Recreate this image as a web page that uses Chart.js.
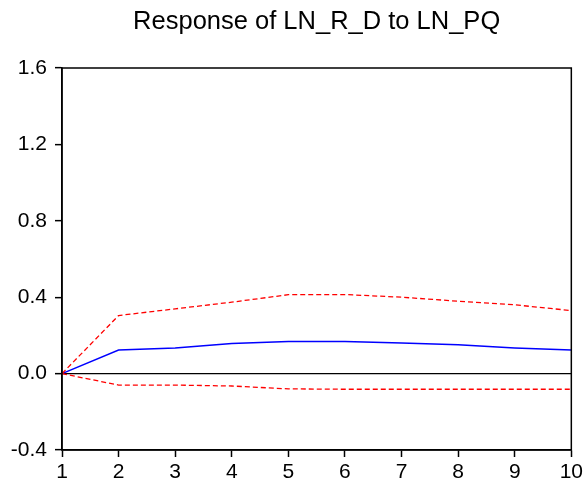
<!DOCTYPE html>
<html>
<head>
<meta charset="utf-8">
<script src="https://cdn.jsdelivr.net/npm/chart.js@4"></script>
<style>
  html, body { margin: 0; padding: 0; background: #fff; }
  #wrap { width: 586px; height: 484px; }
</style>
</head>
<body>
<div id="wrap"><canvas id="grafico"></canvas></div>
<script>
// periodos y respuestas
const periodos = ['1', '2', '3', '4', '5', '6', '7', '8', '9', '10'];
const respuesta = [0.0, 0.123, 0.134, 0.158, 0.168, 0.168, 0.160, 0.151, 0.134, 0.123];
const bandaSup = [0.0, 0.304, 0.339, 0.374, 0.413, 0.414, 0.400, 0.379, 0.360, 0.330];
const bandaInf = [0.0, -0.060, -0.060, -0.065, -0.080, -0.082, -0.082, -0.082, -0.082, -0.082];
const ticksY = [-0.4, 0.0, 0.4, 0.8, 1.2, 1.6];
const titulo = 'Response of LN_R_D to LN_PQ';

const fuente = 'Liberation Sans, Arial, sans-serif';

// marco completo y título centrado sobre el área de datos
const marco = {
  id: 'marco',
  afterDraw(chart) {
    const { ctx, chartArea: a } = chart;
    ctx.save();
    ctx.strokeStyle = '#000';
    ctx.lineWidth = 1.5;
    ctx.strokeRect(a.left, a.top, a.right - a.left, a.bottom - a.top);
    ctx.fillStyle = '#000';
    ctx.font = '25.5px ' + fuente;
    ctx.textAlign = 'center';
    ctx.textBaseline = 'alphabetic';
    ctx.fillText(titulo, (a.left + a.right) / 2, 29);
    ctx.restore();
  }
};

const ctx = document.getElementById('grafico').getContext('2d');
new Chart(ctx, {
  type: 'line',
  data: {
    labels: periodos,
    datasets: [
      { data: bandaSup, borderColor: '#ff0000', borderWidth: 1.3, borderDash: [5, 3], pointRadius: 0, tension: 0 },
      { data: bandaInf, borderColor: '#ff0000', borderWidth: 1.3, borderDash: [5, 3], pointRadius: 0, tension: 0 },
      { data: respuesta, borderColor: '#0000ff', borderWidth: 1.5, pointRadius: 0, tension: 0 }
    ]
  },
  options: {
    responsive: true,
    maintainAspectRatio: false,
    animation: false,
    layout: { padding: { right: 13, top: 68 } },
    plugins: {
      legend: { display: false },
      tooltip: { enabled: false },
      title: { display: false }
    },
    scales: {
      x: {
        offset: false,
        grid: { drawOnChartArea: false, drawTicks: true, tickLength: 7, color: '#000', tickWidth: 1.5 },
        border: { color: '#000', width: 1.5 },
        ticks: { color: '#000', padding: 3, maxRotation: 0, autoSkip: false, font: { family: fuente, size: 21 } },
        afterFit(scale) { scale.height = 34; }
      },
      y: {
        min: -0.4,
        max: 1.6,
        afterBuildTicks(scale) { scale.ticks = ticksY.map(v => ({ value: v })); },
        grid: {
          drawOnChartArea: true,
          tickLength: 7,
          color: c => (c.tick && Math.abs(c.tick.value) < 1e-9) ? '#000' : 'rgba(0,0,0,0)',
          lineWidth: 1.3,
          tickColor: '#000',
          tickWidth: 1.5
        },
        border: { color: '#000', width: 1.5 },
        ticks: {
          color: '#000',
          padding: 8,
          font: { family: fuente, size: 21 },
          callback: v => Number(v).toFixed(1)
        },
        afterFit(scale) { scale.width = 62; }
      }
    }
  },
  plugins: [marco]
});
</script>
</body>
</html>
